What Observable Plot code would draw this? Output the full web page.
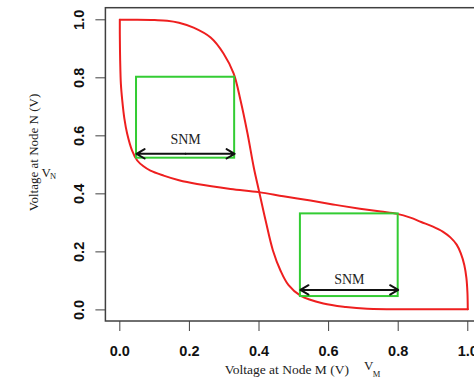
<!DOCTYPE html>
<html><head><meta charset="utf-8">
<script src="https://cdn.jsdelivr.net/npm/d3@7"></script>
<script src="https://cdn.jsdelivr.net/npm/@observablehq/plot@0.6"></script>
<style>body{margin:0;background:#fff} svg{display:block}</style>
</head><body><div id="chart"></div>
<script>
// Axis ticks
const ticks = [0, 0.2, 0.4, 0.6, 0.8, 1.0];
// Curve 1: VN = f(VM)
const c1VM = [0, 0.05, 0.10, 0.136, 0.17, 0.212, 0.261, 0.298, 0.327, 0.347, 0.367, 0.385, 0.40, 0.419, 0.44, 0.462, 0.485, 0.519, 0.585, 0.65, 0.711, 0.855, 1.0];
const c1VN = [1.0, 1.0, 0.999, 0.997, 0.99, 0.973, 0.939, 0.884, 0.815, 0.722, 0.608, 0.491, 0.41, 0.308, 0.205, 0.135, 0.085, 0.049, 0.022, 0.01, 0.004, 0.002, 0.002];
// Curve 2: VM = g(VN)
const c2VM = [0, 0.0, 0.001, 0.003, 0.007, 0.013, 0.021, 0.035, 0.05, 0.068, 0.088, 0.126, 0.17, 0.222, 0.318, 0.399, 0.47, 0.548, 0.62, 0.69, 0.75, 0.797, 0.835, 0.866, 0.90, 0.928, 0.95, 0.968, 0.98, 0.99, 0.996, 0.999, 1.0];
const c2VN = [1.0, 0.95, 0.86, 0.78, 0.722, 0.66, 0.608, 0.55, 0.515, 0.495, 0.480, 0.463, 0.447, 0.434, 0.417, 0.406, 0.392, 0.377, 0.362, 0.349, 0.339, 0.331, 0.318, 0.303, 0.287, 0.27, 0.25, 0.225, 0.195, 0.155, 0.11, 0.06, 0.002];
// SNM squares
const boxX1 = [0.048, 0.519];
const boxX2 = [0.330, 0.800];
const boxY1 = [0.523, 0.046];
const boxY2 = [0.802, 0.331];
const arrowVN = [0.538, 0.069];
const snmText = ["SNM", "SNM"];
const snmTextVN = [0.587, 0.104];

const c1 = c1VM.map((x, i) => ({x, y: c1VN[i]}));
const c2 = c2VM.map((x, i) => ({x, y: c2VN[i]}));
const boxes = boxX1.map((x1, i) => ({x1, x2: boxX2[i], y1: boxY1[i], y2: boxY2[i], ya: arrowVN[i], xm: (x1 + boxX2[i]) / 2, yt: snmTextVN[i], t: snmText[i]}));

const serif = "'Liberation Serif', 'Times New Roman', serif";
const sans = "'Liberation Sans', Arial, sans-serif";

const chart = Plot.plot({
  width: 474, height: 381,
  marginLeft: 105.4, marginTop: 7.7, marginBottom: 60, marginRight: 0,
  x: {domain: [-0.04, 1.04], range: [105.4, 481.2]},
  y: {domain: [-0.04, 1.04], range: [321.0, 7.7]},
  style: {fontFamily: sans, background: "#fff"},
  marks: [
    Plot.rect([{}], {x1: () => -0.04, x2: () => 1.04, y1: () => -0.04, y2: () => 1.04, fill: "none", stroke: "#404040", strokeWidth: 1.5}),
    Plot.axisX(ticks, {anchor: "bottom", tickSize: 10, tickPadding: 14, tickFormat: d => d.toFixed(1), fontSize: 14.5, fontWeight: "bold", fontFamily: sans, stroke: "#404040", fill: "#111", label: null}),
    Plot.axisY(ticks, {anchor: "left", tickSize: 10, tickPadding: 12, tickRotate: -90, textAnchor: "middle", tickFormat: d => d.toFixed(1), fontSize: 14.5, fontWeight: "bold", fontFamily: sans, stroke: "#404040", fill: "#111", label: null}),
    Plot.line(c1, {x: "x", y: "y", stroke: "#ee1f1f", strokeWidth: 2, curve: "catmull-rom"}),
    Plot.line(c2, {x: "x", y: "y", stroke: "#ee1f1f", strokeWidth: 2, curve: "catmull-rom"}),
    Plot.rect(boxes, {x1: "x1", x2: "x2", y1: "y1", y2: "y2", fill: "none", stroke: "#33cc33", strokeWidth: 2}),
    Plot.arrow(boxes, {x1: "xm", x2: "x1", y1: "ya", y2: "ya", stroke: "#111", strokeWidth: 2, headLength: 7}),
    Plot.arrow(boxes, {x1: "xm", x2: "x2", y1: "ya", y2: "ya", stroke: "#111", strokeWidth: 2, headLength: 7}),
    Plot.text(boxes, {x: "xm", y: "yt", text: "t", fontFamily: serif, fontSize: 14, fill: "#222"}),
    // axis titles
    Plot.text(["Voltage at Node M (V)"], {x: () => 0.48, frameAnchor: "bottom", dy: 52, fontFamily: serif, fontSize: 13.5, fill: "#222"}),
    Plot.text(["V"], {x: () => 0.715, frameAnchor: "bottom", dy: 48, fontFamily: serif, fontSize: 13, fill: "#222"}),
    Plot.text(["M"], {x: () => 0.738, frameAnchor: "bottom", dy: 55, fontFamily: serif, fontSize: 8.5, fill: "#222"}),
    Plot.text(["Voltage at Node N (V)"], {frameAnchor: "top-left", textAnchor: "middle", dx: -77.5, dy: 144.3, rotate: -90, fontFamily: serif, fontSize: 13, fill: "#222"}),
    Plot.text(["V"], {frameAnchor: "top-left", textAnchor: "start", dx: -64.5, dy: 159.5, fontFamily: serif, fontSize: 13, fill: "#222"}),
    Plot.text(["N"], {frameAnchor: "top-left", textAnchor: "start", dx: -56, dy: 165, fontFamily: serif, fontSize: 8.5, fill: "#222"})
  ]
});
document.getElementById("chart").append(chart);
</script>
</body></html>
